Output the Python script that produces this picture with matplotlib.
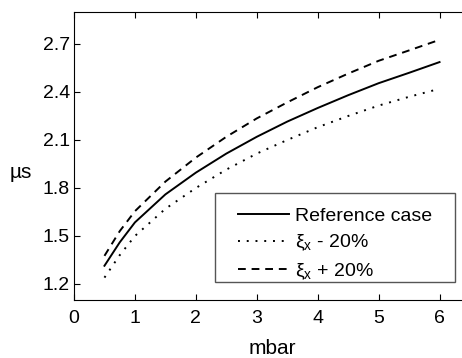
import numpy as np
import matplotlib.pyplot as plt
from matplotlib.patches import Rectangle

plt.rcParams['font.family'] = ['Liberation Sans', 'DejaVu Sans']
plt.rcParams['mathtext.fontset'] = 'custom'
plt.rcParams['mathtext.rm'] = 'Liberation Sans'

p = [0.5, 0.75, 1.0, 1.5, 2.0, 2.5, 3.0, 3.5, 4.0, 4.5, 5.0, 5.5, 6.0]
ref = [1.314, 1.46, 1.585, 1.76, 1.896, 2.015, 2.12, 2.215, 2.30, 2.38, 2.455, 2.52, 2.587]
minus20 = [1.24, 1.38, 1.50, 1.67, 1.80, 1.915, 2.015, 2.10, 2.18, 2.25, 2.315, 2.37, 2.42]
plus20 = [1.376, 1.53, 1.655, 1.84, 1.99, 2.12, 2.235, 2.335, 2.43, 2.515, 2.595, 2.66, 2.726]

W, H = 462, 358
fig = plt.figure(figsize=(4.62, 3.58), dpi=100)
ax = fig.add_axes([74/W, 58/H, 396/W, 288/H])

ax.plot(p, ref, 'k-', lw=1.4, label='Reference case')
ax.plot(p, minus20, 'k', ls=(0, (1, 3.5)), lw=1.4, label=r'ξ$_\mathrm{x}$ - 20%')
ax.plot(p, plus20, 'k', ls=(0, (4, 3)), lw=1.4, label=r'ξ$_\mathrm{x}$ + 20%')

ax.set_xlim(0, 6.5)
ax.set_ylim(1.1, 2.9)
ax.set_xticks(range(0, 7))
ax.set_yticks([1.2, 1.5, 1.8, 2.1, 2.4, 2.7])
ax.tick_params(direction='in', top=True, right=True, labelsize=14, length=4)
ax.tick_params(axis='x', pad=7)
ax.tick_params(axis='y', pad=3)
ax.set_xlabel('mbar', fontsize=15)
ax.set_ylabel('µs', fontsize=15, rotation=0, ha='center', va='center')
ax.xaxis.set_label_coords(0.5, -0.135)
ax.yaxis.set_label_coords((21 - 74) / 396, (300 - 172) / 288)

# legend box drawn by hand, entries placed inside it
box = Rectangle((215/W, 1 - 282/H), 240/W, 89/H, transform=fig.transFigure,
                facecolor='white', edgecolor='#555555', lw=1.0, zorder=4, clip_on=False)
ax.add_artist(box)
leg = ax.legend(loc='upper left', bbox_to_anchor=(238/W, 1 - 207/H),
                bbox_transform=fig.transFigure, fontsize=14, handlelength=2.6,
                handletextpad=0.35, labelspacing=0.42, borderpad=0,
                frameon=False, borderaxespad=0)
leg.set_zorder(5)

fig.savefig('out.png', dpi=100)
